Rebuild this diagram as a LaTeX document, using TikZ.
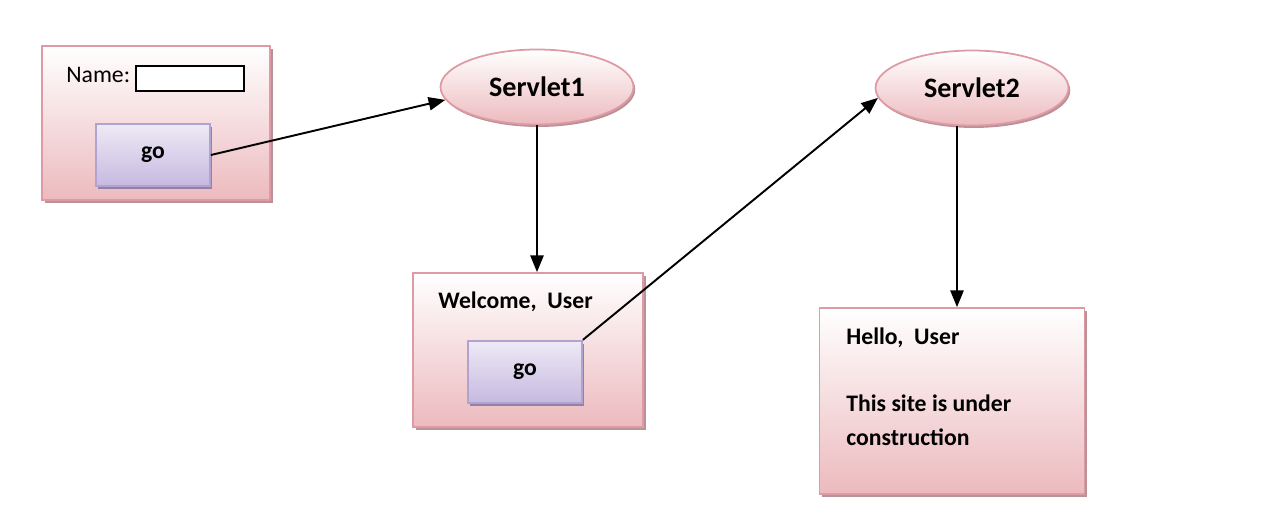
\documentclass[tikz,border=0pt]{standalone}
\usepackage{fontspec}
\setmainfont{Carlito}
\usetikzlibrary{shapes,shadows,arrows.meta}
\definecolor{boxline}{RGB}{222,155,165}
\definecolor{boxfill}{RGB}{236,186,190}
\definecolor{boxshadow}{RGB}{185,145,150}
\definecolor{btnline}{RGB}{178,162,208}
\definecolor{btnfill}{RGB}{198,185,224}
\definecolor{btnshadow}{RGB}{145,130,168}
\begin{document}
\begin{tikzpicture}[x=0.02cm,y=-0.02cm,
    page/.style={draw=boxline,line width=1pt,top color=white,bottom color=boxfill,
        drop shadow={shadow xshift=1.6pt,shadow yshift=-1.8pt,fill=boxshadow,opacity=1}},
    button/.style={draw=btnline,line width=1pt,top color=white!70!btnfill,bottom color=btnfill,
        drop shadow={shadow xshift=1.4pt,shadow yshift=-1.6pt,fill=btnshadow,opacity=1},
        minimum width=2.28cm,minimum height=1.25cm,font=\fontsize{13.5}{16}\selectfont\bfseries},
    servlet/.style={ellipse,draw=boxline,line width=1pt,top color=white,bottom color=boxfill,
        drop shadow={shadow xshift=1pt,shadow yshift=-1.4pt,fill=boxshadow,opacity=1},
        minimum width=3.86cm,minimum height=1.5cm,font=\fontsize{16}{19}\selectfont\bfseries},
    txt/.style={anchor=base west,inner sep=0pt,font=\fontsize{13.5}{16}\selectfont\bfseries},
    link/.style={line width=1.1pt,-{Triangle[length=9.5pt,width=7.5pt]}}]
\fill[white] (0,0) rectangle (1270,516);
\useasboundingbox (0,0) rectangle (1270,516);

% form page
\node[page,minimum width=4.56cm,minimum height=3.08cm] (form) at (156,123) {};
\node[txt,font=\fontsize{13.5}{16}\selectfont] (namelbl) at (66,83) {Name:};
\node[draw,line width=0.9pt,fill=white,minimum width=2.16cm,minimum height=0.5cm,inner sep=0pt] (namebox) at (190,78.5) {};
\node[button] (go1) at (153,155) {go};

% servlets
\node[servlet] (serv1) at (537,87) {Servlet1};
\node[servlet] (serv2) at (972,88) {Servlet2};

% welcome page
\node[page,minimum width=4.6cm,minimum height=3.08cm] (welcome) at (528,350) {};
\node[txt] (welcomelbl) at (438,309) {Welcome,\ \ User};
\node[button] (go2) at (525,372) {go};

% result page
\node[page,minimum width=5.3cm,minimum height=3.72cm] (result) at (952,401) {};
\node[txt] (hello) at (846,345) {Hello,\ \ User};
\node[txt] (site1) at (846,412) {This site is under};
\node[txt] (site2) at (846,445) {construction};

\draw[link] (go1.east) -- (serv1.188);
\draw[link] (serv1.south) -- (serv1.south |- welcome.north);
\draw[link] (go2.north east) -- (serv2.186);
\draw[link] ([xshift=0.1cm]result.north |- serv2.south) -- ([xshift=0.1cm]result.north);
\end{tikzpicture}
\end{document}
